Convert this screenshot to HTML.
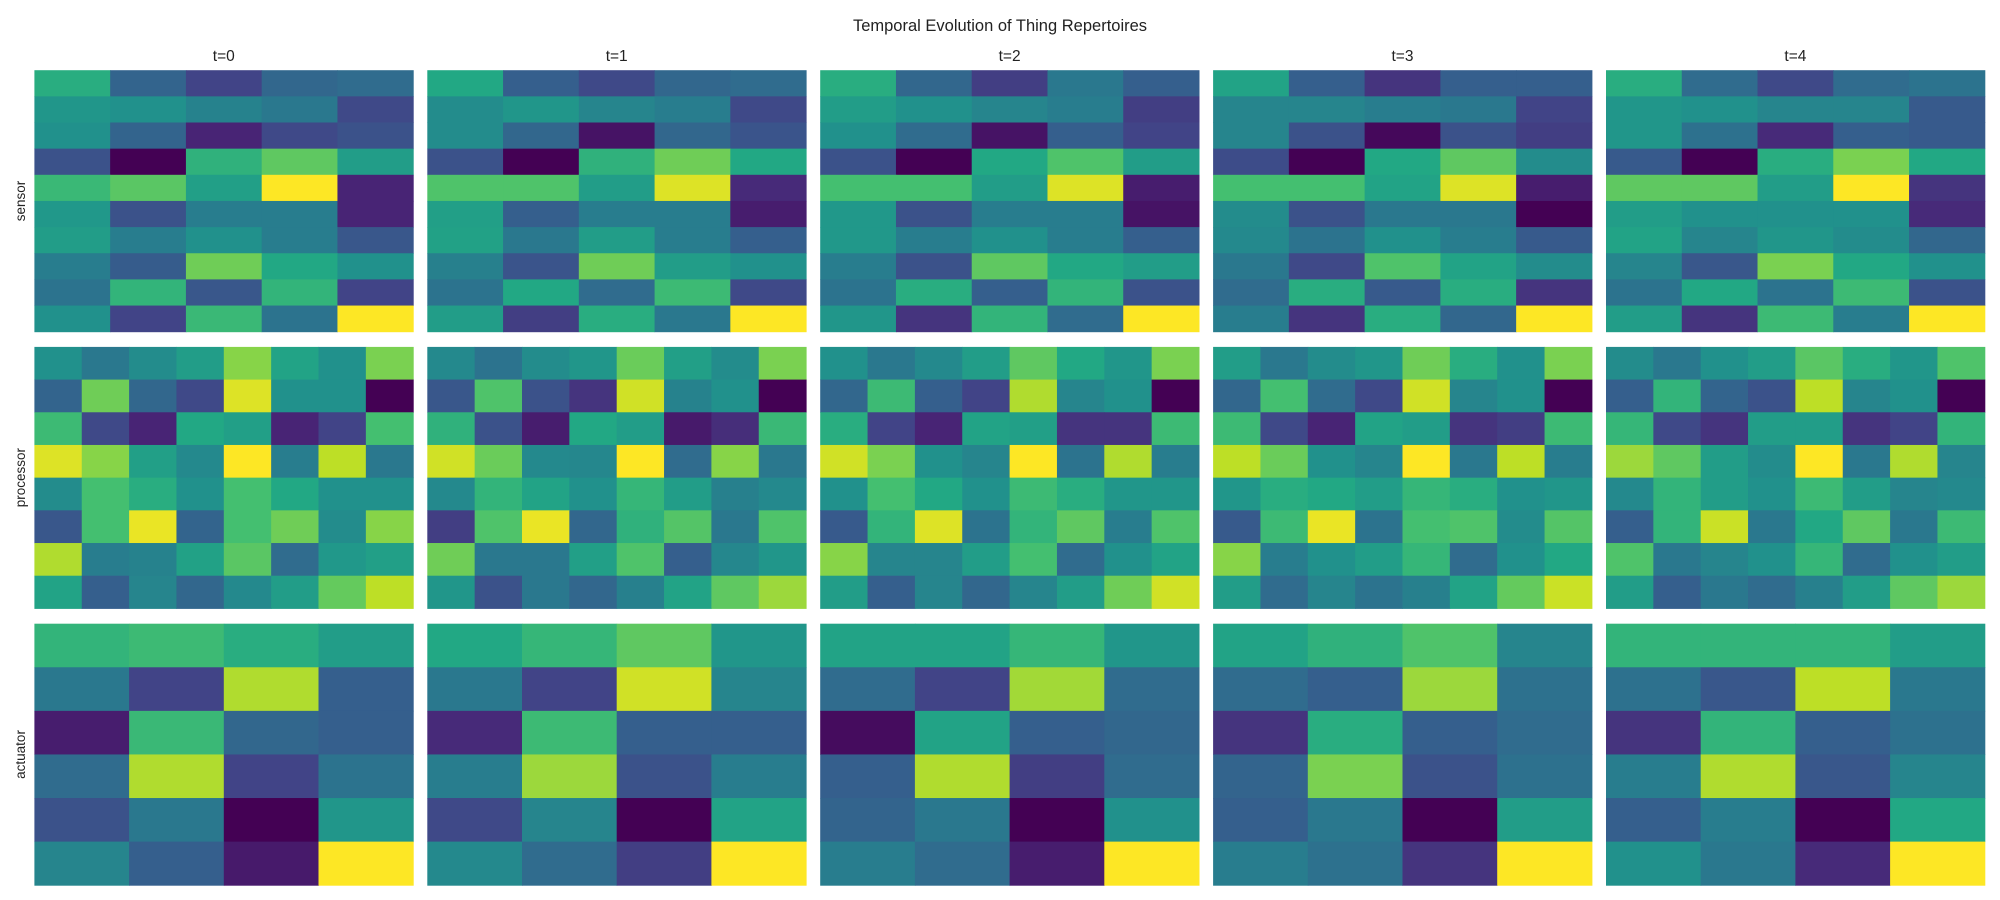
<!DOCTYPE html>
<html><head><meta charset="utf-8"><style>
body{margin:0;background:#fff;}
svg{display:block;font-family:"Liberation Sans","DejaVu Sans",sans-serif;}
</style></head><body>
<svg id="fig" width="2000" height="900" viewBox="0 0 2000 900">
<text x="1000" y="31" text-anchor="middle" font-size="16.5" fill="#222">Temporal Evolution of Thing Repertoires</text>
</svg>
<script>
const timeLabels=["t=0","t=1","t=2","t=3","t=4"];
const rowLabels=["sensor","processor","actuator"];
const sensorData=[
[[.62,.32,.2,.33,.35],[.52,.5,.44,.4,.22],[.5,.32,.1,.22,.25],[.25,0,.64,.75,.55],[.67,.74,.56,1,.1],[.53,.25,.42,.42,.1],[.55,.42,.5,.42,.27],[.42,.29,.78,.6,.5],[.38,.65,.27,.65,.2],[.5,.2,.67,.38,1]],
[[.6,.3,.22,.33,.35],[.48,.52,.45,.42,.22],[.48,.33,.05,.33,.26],[.25,0,.64,.78,.6],[.72,.72,.55,.95,.12],[.56,.3,.42,.42,.08],[.57,.4,.55,.42,.3],[.43,.26,.78,.55,.5],[.38,.6,.35,.68,.22],[.55,.18,.62,.4,1]],
[[.62,.33,.18,.4,.3],[.55,.5,.45,.42,.18],[.5,.35,.05,.3,.2],[.25,0,.6,.72,.55],[.7,.7,.55,.95,.08],[.53,.25,.42,.42,.05],[.53,.42,.5,.42,.3],[.42,.25,.75,.6,.55],[.38,.62,.3,.65,.25],[.52,.15,.65,.35,1]],
[[.58,.3,.15,.3,.3],[.45,.45,.42,.4,.2],[.45,.25,.02,.25,.18],[.23,0,.6,.75,.48],[.7,.7,.58,.95,.08],[.48,.25,.4,.4,0],[.47,.38,.5,.42,.28],[.4,.22,.72,.58,.48],[.35,.62,.28,.62,.15],[.42,.15,.62,.33,1]],
[[.62,.35,.22,.35,.38],[.52,.5,.45,.45,.28],[.52,.37,.12,.3,.28],[.28,0,.62,.8,.6],[.75,.75,.55,1,.15],[.55,.5,.5,.5,.12],[.58,.45,.52,.48,.33],[.45,.27,.8,.6,.5],[.38,.6,.38,.68,.25],[.55,.15,.68,.42,1]]
];
const processorData=[
[[.5,.4,.48,.55,.82,.58,.5,.8],[.32,.78,.33,.22,.95,.5,.5,0],[.68,.22,.1,.6,.56,.1,.2,.7],[.95,.82,.56,.47,1,.42,.9,.4],[.48,.7,.62,.5,.7,.6,.5,.5],[.27,.7,.97,.32,.7,.78,.48,.82],[.88,.42,.44,.57,.74,.35,.53,.56],[.58,.3,.45,.33,.47,.55,.76,.9]],
[[.47,.38,.48,.52,.77,.56,.48,.8],[.27,.72,.25,.15,.93,.44,.5,0],[.64,.25,.08,.6,.55,.07,.13,.67],[.93,.77,.47,.46,1,.35,.82,.4],[.47,.65,.58,.5,.66,.55,.43,.47],[.18,.72,.97,.33,.64,.73,.4,.72],[.78,.4,.4,.56,.72,.3,.46,.52],[.52,.25,.4,.33,.43,.58,.75,.85]],
[[.5,.4,.47,.55,.75,.6,.52,.8],[.33,.68,.3,.2,.88,.45,.5,0],[.62,.2,.1,.58,.56,.15,.15,.68],[.93,.8,.5,.45,1,.38,.88,.42],[.5,.7,.6,.5,.68,.62,.52,.52],[.28,.65,.95,.38,.65,.75,.42,.72],[.82,.45,.45,.55,.7,.35,.5,.58],[.55,.3,.45,.33,.45,.55,.78,.93]],
[[.55,.4,.48,.52,.78,.62,.5,.8],[.33,.7,.35,.22,.93,.45,.5,0],[.68,.22,.1,.58,.55,.15,.18,.68],[.9,.77,.5,.45,1,.4,.9,.42],[.52,.62,.6,.55,.66,.62,.5,.52],[.28,.68,.97,.38,.7,.72,.48,.73],[.82,.42,.5,.55,.66,.35,.5,.6],[.55,.35,.45,.38,.43,.58,.76,.92]],
[[.48,.4,.5,.55,.74,.62,.52,.72],[.3,.65,.32,.25,.9,.45,.5,0],[.66,.22,.15,.55,.55,.15,.2,.65],[.85,.75,.55,.48,1,.4,.88,.45],[.47,.65,.55,.5,.68,.55,.45,.47],[.3,.65,.92,.4,.6,.75,.4,.68],[.72,.4,.45,.5,.66,.35,.5,.55],[.55,.3,.4,.35,.43,.55,.75,.85]]
];
const actuatorData=[
[[.65,.68,.62,.55],[.4,.2,.88,.3],[.08,.67,.33,.3],[.35,.88,.2,.38],[.25,.4,0,.52],[.45,.3,.07,1]],
[[.6,.66,.75,.52],[.4,.2,.93,.45],[.12,.68,.3,.3],[.42,.85,.25,.42],[.22,.45,0,.58],[.47,.35,.18,1]],
[[.58,.58,.66,.52],[.35,.2,.86,.35],[.03,.58,.3,.33],[.3,.88,.18,.35],[.32,.4,0,.5],[.42,.35,.08,1]],
[[.58,.64,.72,.45],[.35,.3,.85,.37],[.15,.62,.3,.35],[.32,.8,.25,.37],[.3,.4,0,.55],[.42,.37,.15,1]],
[[.65,.65,.65,.55],[.37,.27,.9,.4],[.15,.65,.3,.37],[.42,.88,.27,.45],[.3,.42,0,.6],[.5,.4,.12,1]]
];
const allData=[sensorData,processorData,actuatorData];
const stops=["#440154","#482475","#414487","#355f8d","#2a788e","#21918c","#22a884","#44bf70","#7ad151","#bddf26","#fde725"];
function hex(h){return [1,3,5].map(i=>parseInt(h.substr(i,2),16));}
function viridis(v){v=Math.max(0,Math.min(1,v));const p=v*10,i=Math.min(9,Math.floor(p)),f=p-i;const a=hex(stops[i]),b=hex(stops[i+1]);return "rgb("+a.map((c,k)=>Math.round(c+(b[k]-c)*f)).join(",")+")";}
const NS="http://www.w3.org/2000/svg";
const svg=document.getElementById("fig");
const x0=34.4,pw=378.8,gx=392.9,ys=[70.2,346.9,623.7],ph=261.5;
function px(col){return x0+col*gx;}
function py(row){return ys[row];}
timeLabels.forEach((t,c)=>{
  const tx=document.createElementNS(NS,"text");
  tx.setAttribute("x",px(c)+pw/2);tx.setAttribute("y",61);tx.setAttribute("text-anchor","middle");tx.setAttribute("font-size","15.5");tx.setAttribute("fill","#222");
  tx.textContent=t;
  
  
  svg.appendChild(tx);
});
rowLabels.forEach((r,ri)=>{
  const tx=document.createElementNS(NS,"text");
  const cy=py(ri)+ph/2;
  tx.setAttribute("x",25);tx.setAttribute("y",cy);tx.setAttribute("text-anchor","middle");tx.setAttribute("font-size","13.5");tx.setAttribute("fill","#222");
  tx.setAttribute("transform","rotate(-90 25 "+cy+")");
  tx.textContent=r;
  
  
  svg.appendChild(tx);
  allData[ri].forEach((m,c)=>{
    const g=document.createElementNS(NS,"g");
    
    
    const nr=m.length,nc=m[0].length,cw=pw/nc,chh=ph/nr;
    m.forEach((row,i)=>row.forEach((v,j)=>{
      const rc=document.createElementNS(NS,"rect");
      rc.setAttribute("x",px(c)+j*cw);rc.setAttribute("y",py(ri)+i*chh);
      rc.setAttribute("width",cw+0.5);rc.setAttribute("height",chh+0.5);
      rc.setAttribute("fill",viridis(v));
      
      
      g.appendChild(rc);
    }));
    svg.appendChild(g);
  });
});
</script>
</body></html>
